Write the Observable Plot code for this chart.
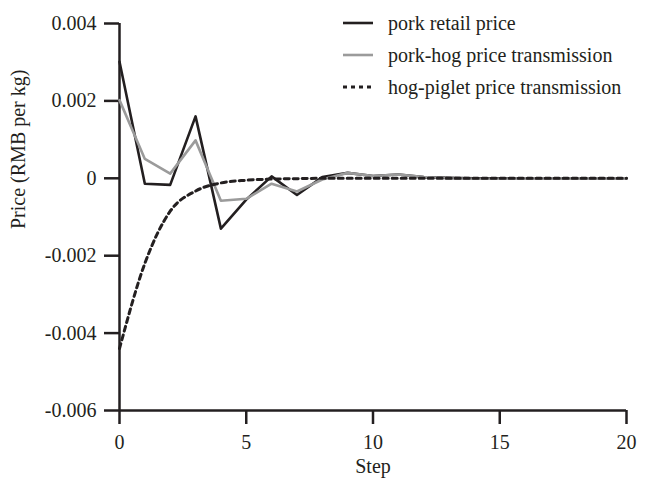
<!DOCTYPE html>
<html><head><meta charset="utf-8">
<script src="https://cdn.jsdelivr.net/npm/d3@7"></script>
<script src="https://cdn.jsdelivr.net/npm/@observablehq/plot@0.6"></script>
</head><body style="margin:0;background:#fff">
<svg width="648" height="110" font-family="Liberation Serif" font-size="20" fill="#231f20" style="position:absolute;left:0;top:0;z-index:2" id="legend">
<text class="lgtext" x="388" y="23" dy="0.35em">pork retail price</text>
<text class="lgtext" x="388" y="55" dy="0.35em">pork-hog price transmission</text>
<text class="lgtext" x="388" y="87" dy="0.35em">hog-piglet price transmission</text>
</svg>
<div id="chart"></div>
<script>
const steps = [0,1,2,3,4,5,6,7,8,9,10,11,12,13,14,15,16,17,18,19,20];
const porkRetail = [0.00301,-0.00014,-0.00017,0.0016,-0.0013,-0.00055,0.00005,-0.00043,0.00003,0.00014,0.00006,0.0001,0.00003,0.00001,0,0,0,0,0,0,0];
const porkHog = [0.00202,0.0005,0.00012,0.00098,-0.00058,-0.00053,-0.00014,-0.00034,-0.00003,0.00014,0.00006,0.0001,0.00003,0,-0.00001,-0.00001,0,0,0,0,0];
const hogPiglet = [-0.0044,-0.0022,-0.00085,-0.00033,-0.00012,-0.00005,-0.00002,-0.00001,0,0,0,0,0,0,0,0,0,0,0,0,0];
const seriesNames = ["pork retail price","pork-hog price transmission","hog-piglet price transmission"];
const xTicks = [0,5,10,15,20];
const yTicks = [0.004,0.002,0,-0.002,-0.004,-0.006];
const xLabel = "Step";
const yLabel = "Price (RMB per kg)";

const ink = "#231f20";
const serif = "Liberation Serif";
const styles = [
  {stroke: ink, strokeWidth: 2.6, dash: null, curve: "linear"},
  {stroke: "#9b9b9b", strokeWidth: 2.6, dash: null, curve: "linear"},
  {stroke: ink, strokeWidth: 3, dash: "5,4", curve: "monotone-x"}
];
const allSeries = [porkRetail, porkHog, hogPiglet];
const data = allSeries.map((vals, k) => steps.map((s, i) => ({step: s, value: vals[i], series: seriesNames[k]})));

const fmt = d => String(+d.toFixed(3));

const chart = Plot.plot({
  width: 648, height: 486,
  marginLeft: 119, marginRight: 22, marginTop: 23, marginBottom: 76,
  x: {domain: [0, 20]},
  y: {domain: [-0.006, 0.004]},
  style: {fontFamily: serif, fontSize: "20px"},
  marks: [
    Plot.axisX({ticks: xTicks, tickSize: 14, tickPadding: 10, strokeWidth: 2.5, label: null, tickFormat: d => String(d), fill: ink, stroke: ink}),
    Plot.axisY({ticks: yTicks, tickSize: 15, tickPadding: 8, strokeWidth: 2.5, label: null, tickFormat: fmt, fill: ink, stroke: ink}),
    Plot.ruleX([0], {stroke: ink, strokeWidth: 2.5}),
    Plot.ruleY([-0.006], {stroke: ink, strokeWidth: 2.5}),
    ...data.map((d, k) => Plot.line(d, {x: "step", y: "value", stroke: styles[k].stroke, strokeWidth: styles[k].strokeWidth, strokeDasharray: styles[k].dash, curve: styles[k].curve})),
    Plot.text([xLabel], {frameAnchor: "bottom", dy: 62, fill: ink}),
    Plot.text([yLabel], {frameAnchor: "left", rotate: -90, dx: -101, dy: 12, fill: ink})
  ]
});
document.getElementById("chart").appendChild(chart);

// legend swatches and labels from the series arrays
const lg = d3.select("#legend");
const rowY = [23, 55, 87];
lg.selectAll("text.lgtext").data(seriesNames).text(d => d);
seriesNames.forEach((name, k) => {
  lg.append("line").attr("x1", 343).attr("x2", 373).attr("y1", rowY[k]).attr("y2", rowY[k])
    .attr("stroke", styles[k].stroke).attr("stroke-width", styles[k].strokeWidth)
    .attr("stroke-dasharray", styles[k].dash ? "4,4" : null);
});
</script>
</body></html>
